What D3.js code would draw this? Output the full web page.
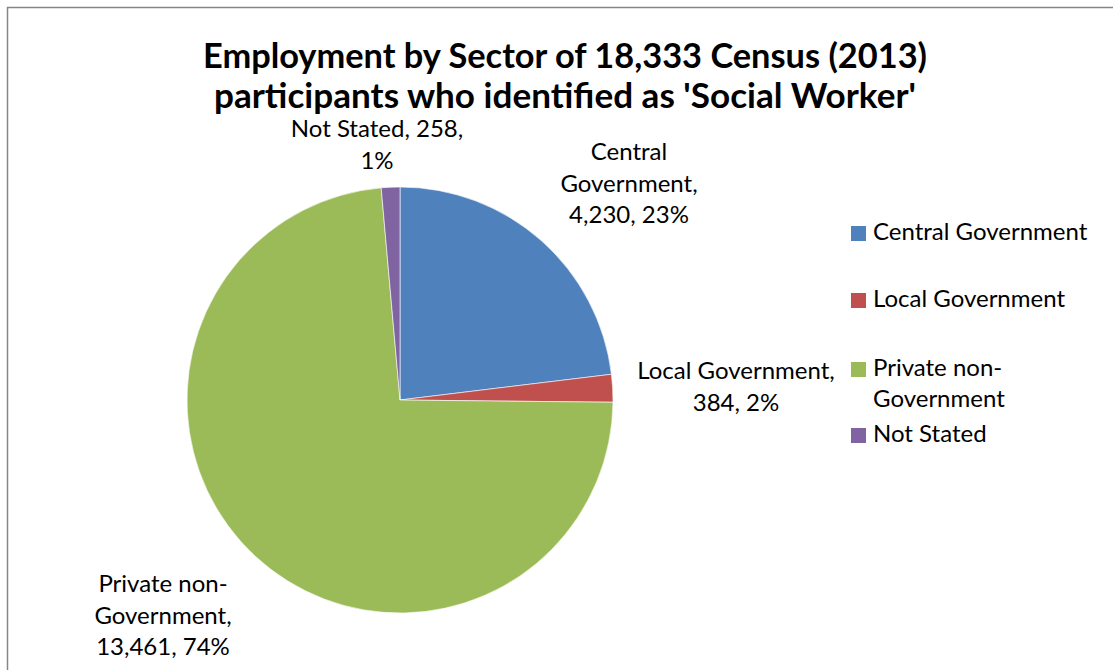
<!DOCTYPE html>
<html>
<head>
<meta charset="utf-8">
<script src="https://cdn.jsdelivr.net/npm/d3@7"></script>
<style>
  html, body { margin: 0; padding: 0; background: #fff; }
  svg { display: block; }
  text { font-family: Lato, "Open Sans", sans-serif; fill: #000; }
</style>
</head>
<body>
<svg id="chart" width="1113" height="670"></svg>
<script>
// ---- data ----
const categories = ["Central Government", "Local Government", "Private non-Government", "Not Stated"];
const values = [4230, 384, 13461, 258];
const percentLabels = ["23%", "2%", "74%", "1%"];
const colors = ["#4F81BD", "#C0504D", "#9BBB59", "#8064A2"];
const titleLines = ["Employment by Sector of 18,333 Census (2013)", "participants who identified as 'Social Worker'"];
const legendLines = [["Central Government"], ["Local Government"], ["Private non-", "Government"], ["Not Stated"]];
const labelLines = [
  ["Central", "Government,", "4,230, 23%"],
  ["Local Government,", "384, 2%"],
  ["Private non-", "Government,", "13,461, 74%"],
  ["Not Stated, 258,", "1%"]
];

// ---- layout (positions only) ----
const W = 1113, H = 670;
const cx = 400, cy = 400, R = 213;
const labelPos = [
  { x: 629, y: 160 },
  { x: 736, y: 379 },
  { x: 163, y: 592 },
  { x: 377, y: 137 }
];
const lineH = 31.5;
const legendX = 851, legendTextX = 873;
const legendBaselines = [240, 307, 376, 442];
const fontPx = "24px";

const svg = d3.select("#chart");

// outer border
svg.append("rect")
  .attr("x", 7.5).attr("y", 7.5)
  .attr("width", W + 10).attr("height", H + 10)
  .attr("fill", "#fff")
  .attr("stroke", "#868686").attr("stroke-width", 1.5);

// title
const title = svg.append("text")
  .attr("text-anchor", "middle")
  .style("font-weight", "bold")
  .style("font-size", "34px");
const titleWidths = [724, 702];
titleLines.forEach((t, i) => {
  title.append("tspan")
    .attr("x", 565).attr("y", 68 + i * 40)
    .attr("textLength", titleWidths[i])
    .attr("lengthAdjust", "spacingAndGlyphs")
    .text(t);
});

// pie
const pie = d3.pie().sort(null).value(d => d)(values);
const arc = d3.arc().innerRadius(0).outerRadius(R);
const g = svg.append("g").attr("transform", `translate(${cx},${cy})`);
g.selectAll("path")
  .data(pie)
  .join("path")
  .attr("d", arc)
  .attr("fill", (d, i) => colors[i])
  .attr("stroke", "#ffffff")
  .attr("stroke-opacity", 0.6)
  .attr("stroke-width", 1);

// data labels
labelLines.forEach((lines, i) => {
  const t = svg.append("text")
    .attr("text-anchor", "middle")
    .style("font-size", fontPx);
  lines.forEach((ln, j) => {
    t.append("tspan")
      .attr("x", labelPos[i].x)
      .attr("y", labelPos[i].y + j * lineH)
      .text(ln);
  });
});

// legend
const leg = svg.append("g");
categories.forEach((c, i) => {
  const by = legendBaselines[i];
  leg.append("rect")
    .attr("x", legendX).attr("y", by - 14)
    .attr("width", 15).attr("height", 15)
    .attr("fill", colors[i]);
  const t = leg.append("text").style("font-size", fontPx);
  legendLines[i].forEach((ln, j) => {
    t.append("tspan")
      .attr("x", legendTextX)
      .attr("y", by + j * 31)
      .text(ln);
  });
});
</script>
</body>
</html>
